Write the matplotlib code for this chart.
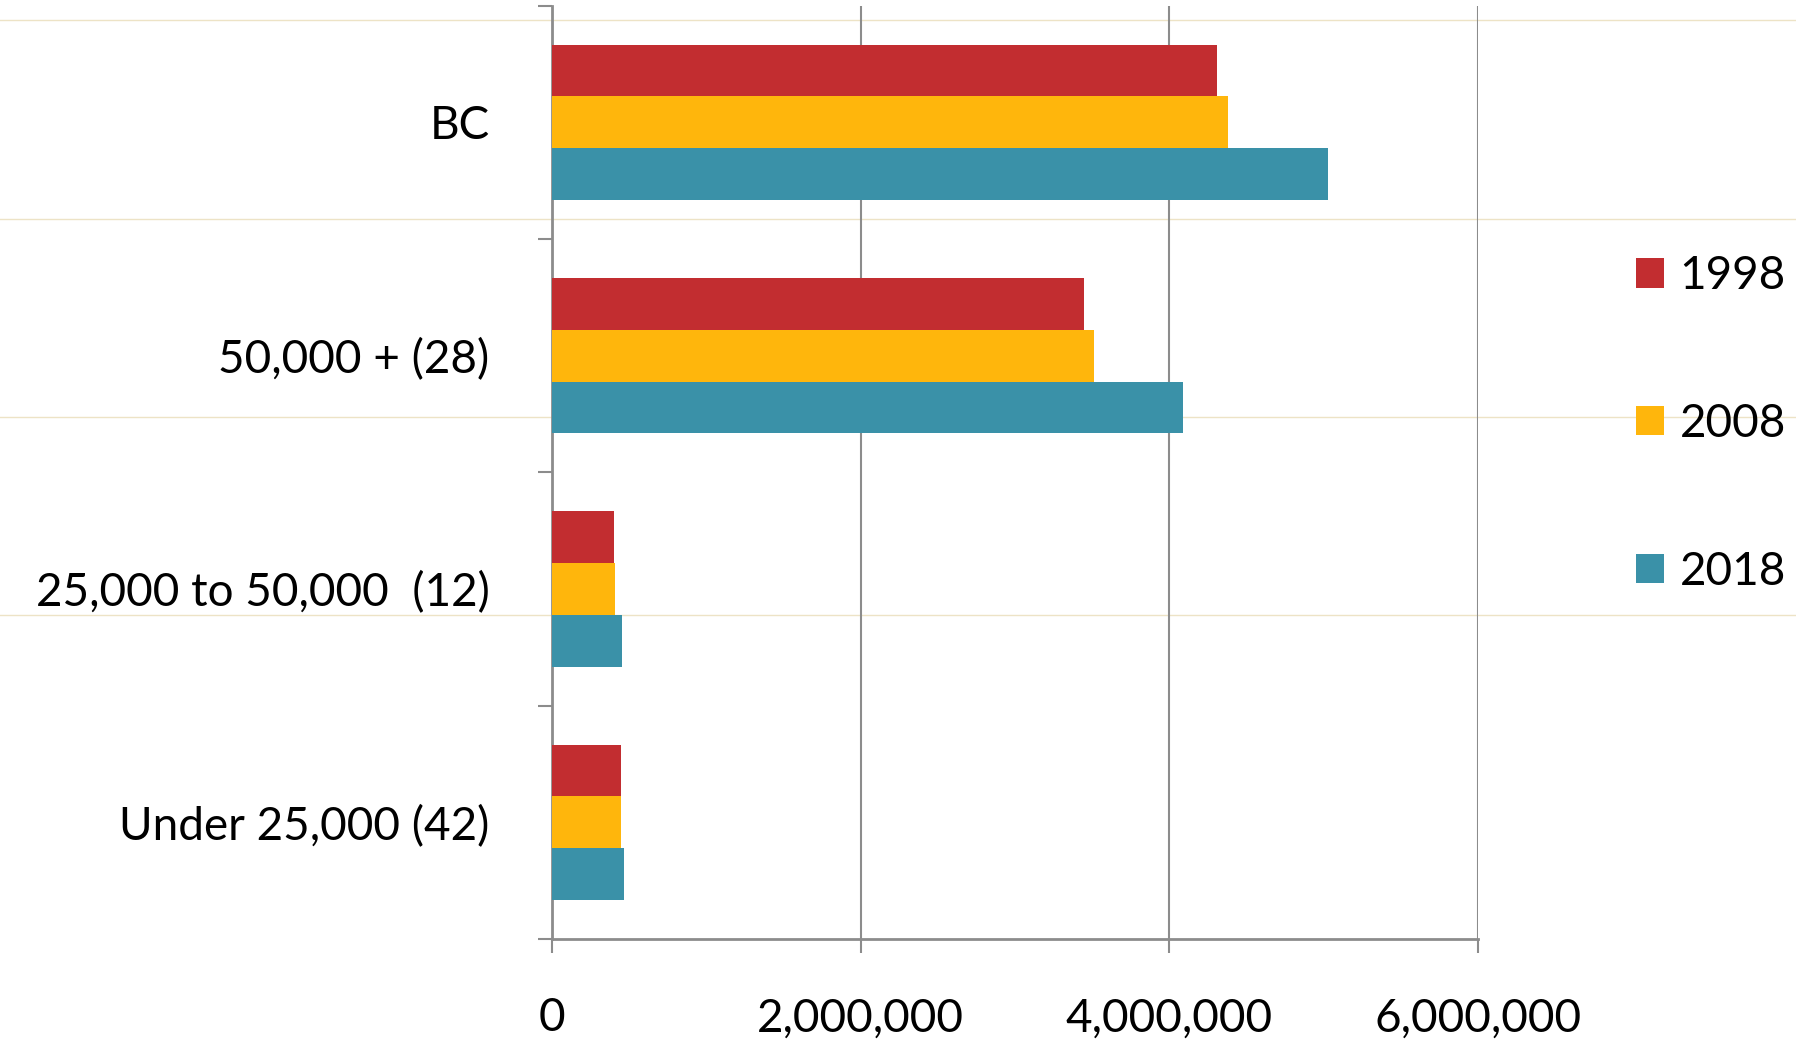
import numpy as np
import matplotlib
matplotlib.use("Agg")
import matplotlib.pyplot as plt
from matplotlib.lines import Line2D
from matplotlib.patches import Patch
from matplotlib.ticker import FuncFormatter

plt.rcParams['font.family'] = ['Lato', 'DejaVu Sans']

categories = ['BC', '50,000 + (28)', '25,000 to 50,000  (12)', 'Under 25,000 (42)']
years = ['1998', '2008', '2018']
pop_1998 = [4310000, 3450000, 400000, 445000]
pop_2008 = [4380000, 3510000, 410000, 450000]
pop_2018 = [5030000, 4090000, 455000, 470000]
series = [pop_1998, pop_2008, pop_2018]
colors = ['#c22d30', '#ffb60c', '#3a91a8']
xticks = [0, 2000000, 4000000, 6000000]

fig = plt.figure(figsize=(17.96, 10.47), dpi=100)
ax = fig.add_axes([0.3073, 0.1032, 0.823 - 0.3073, 0.9946 - 0.1032])

# faint slide lines behind the chart
for yy in [0.981, 0.791, 0.602, 0.413]:
    fig.add_artist(Line2D([0, 1], [yy, yy], transform=fig.transFigure,
                          color='#ede3c6', lw=1.0, zorder=0))

y = np.arange(len(categories))
h = 0.222
for i, (vals, c) in enumerate(zip(series, colors)):
    ax.barh(y + (i - 1) * h, vals, height=h, color=c, zorder=3)

ax.set_xlim(0, 6000000)
ax.set_ylim(3.5, -0.5)
ax.set_xticks(xticks)
ax.xaxis.set_major_formatter(FuncFormatter(lambda v, p: f'{int(v):,}'))
ax.set_yticks(y)
ax.set_yticklabels(categories)
ax.set_yticks(np.arange(-0.5, 4, 1), minor=True)

gray = '#8c8c8c'
ax.grid(axis='x', color=gray, lw=1.5, zorder=1)
for s in ['top', 'right']:
    ax.spines[s].set_visible(False)
for s in ['left', 'bottom']:
    ax.spines[s].set_color(gray)
    ax.spines[s].set_linewidth(2)
ax.patch.set_alpha(0)

ax.tick_params(axis='y', which='major', length=0, pad=45, labelsize=33)
ax.tick_params(axis='y', which='minor', length=10, width=1.5, color=gray)
ax.tick_params(axis='x', length=10, width=1.5, color=gray, pad=32, labelsize=33)

handles = [Patch(facecolor=c, label=yr) for c, yr in zip(colors, years)]
fig.legend(handles=handles, loc='center left', bbox_to_anchor=(0.911, 0.595),
           frameon=False, fontsize=33, handlelength=0.6, handleheight=0.6,
           handletextpad=0.35, labelspacing=2.31, borderpad=0, borderaxespad=0)

fig.savefig('out.png', dpi=100)
